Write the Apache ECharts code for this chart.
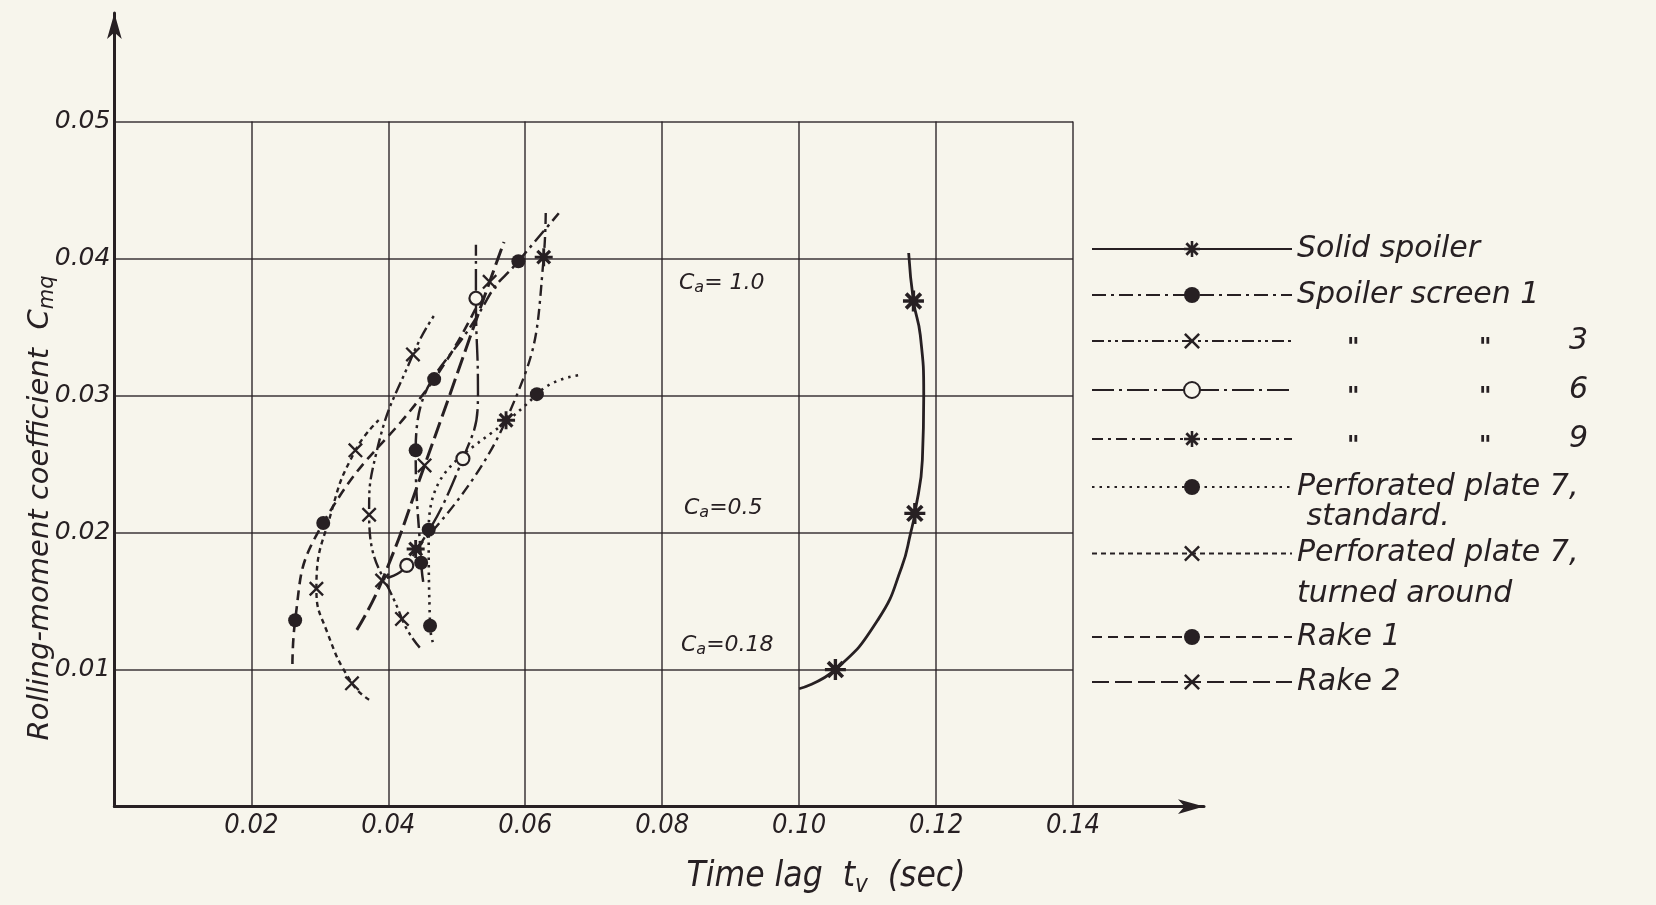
<!DOCTYPE html>
<html><head><meta charset="utf-8">
<script src="https://cdn.jsdelivr.net/npm/echarts@6/dist/echarts.min.js"></script>
<style>html,body{margin:0;padding:0;background:#f7f5ec;}#chart{width:1656px;height:905px;}</style>
</head><body><div id="chart"></div>
<script>
// ---- tick labels ----
const xTickLabels = ['0.02', '0.04', '0.06', '0.08', '0.10', '0.12', '0.14'];
const yTickLabels = ['0.01', '0.02', '0.03', '0.04', '0.05'];

// ---- series names ----
const seriesNames = ['Solid spoiler', 'Spoiler screen 1', 'Spoiler screen 3', 'Spoiler screen 6',
  'Spoiler screen 9', 'Perforated plate 7, standard', 'Perforated plate 7, turned around', 'Rake 1', 'Rake 2'];

// ---- data: faired curves [t_v, C_mq] and measured points ----
const solidSpoilerCurve = [[0.1000,0.0086],[0.1053,0.0100],[0.1116,0.0137],[0.1150,0.0175],[0.1163,0.0200],[0.1169,0.0214],[0.1180,0.0253],[0.1182,0.0300],[0.1177,0.0344],[0.1167,0.0369],[0.1160,0.0404]];
const solidSpoilerPoints = [[0.1053,0.0100],[0.1169,0.0214],[0.1167,0.0369]];

const screen1Curve = [[0.0451,0.0164],[0.0448,0.0178],[0.0440,0.0260],[0.0544,0.0370],[0.0590,0.0398],[0.0649,0.0433]];
const screen1Points = [[0.0448,0.0178],[0.0440,0.0260],[0.0590,0.0398]];

const screen3Curve = [[0.0446,0.0116],[0.0420,0.0137],[0.0372,0.0213],[0.0382,0.0257],[0.0436,0.0330],[0.0469,0.0360]];
const screen3Points = [[0.0420,0.0137],[0.0372,0.0213],[0.0436,0.0330]];

const screen6Curve = [[0.0398,0.0167],[0.0427,0.0176],[0.0509,0.0254],[0.0531,0.0303],[0.0528,0.0371],[0.0528,0.0410]];
const screen6Points = [[0.0427,0.0176],[0.0509,0.0254],[0.0528,0.0371]];

const screen9Curve = [[0.0440,0.0188],[0.0572,0.0282],[0.0627,0.0401],[0.0630,0.0436]];
const screen9Points = [[0.0440,0.0188],[0.0572,0.0282],[0.0627,0.0401]];

const perfStandardCurve = [[0.0465,0.0120],[0.0461,0.0132],[0.0459,0.0202],[0.0617,0.0301],[0.0681,0.0315]];
const perfStandardPoints = [[0.0461,0.0132],[0.0459,0.0202],[0.0617,0.0301]];

const perfTurnedCurve = [[0.0372,0.0078],[0.0347,0.0090],[0.0311,0.0127],[0.0295,0.0159],[0.0318,0.0217],[0.0352,0.0260],[0.0386,0.0282]];
const perfTurnedPoints = [[0.0347,0.0090],[0.0295,0.0159],[0.0352,0.0260]];

const rake1Curve = [[0.0260,0.0104],[0.0264,0.0136],[0.0305,0.0207],[0.0467,0.0312],[0.0529,0.0365]];
const rake1Points = [[0.0264,0.0136],[0.0305,0.0207],[0.0467,0.0312]];

const rake2Curve = [[0.0354,0.0129],[0.0391,0.0165],[0.0453,0.0249],[0.0548,0.0383],[0.0569,0.0412]];
const rake2Points = [[0.0391,0.0165],[0.0453,0.0249],[0.0548,0.0383]];

// ---- styling ----
const BG = '#f7f5ec', INK = '#272023';
const ASTERISK = 'path://M0 8.4L20 8.4L20 11.6L0 11.6Z M8.4 0L11.6 0L11.6 20L8.4 20Z M4.2 1.7L18.3 15.8L15.8 18.3L1.7 4.2Z M18.3 4.2L4.2 18.3L1.7 15.8L15.8 1.7Z';
const CROSS = 'path://M0 2.2L2.2 0L20 17.8L17.8 20Z M17.8 0L20 2.2L2.2 20L0 17.8Z';

const curves = [solidSpoilerCurve, screen1Curve, screen3Curve, screen6Curve, screen9Curve, perfStandardCurve, perfTurnedCurve, rake1Curve, rake2Curve];
const points = [solidSpoilerPoints, screen1Points, screen3Points, screen6Points, screen9Points, perfStandardPoints, perfTurnedPoints, rake1Points, rake2Points];

const styles = [
  {symbol: ASTERISK, size: 21, dash: 'solid', width: 2.8},
  {symbol: 'circle', size: 14, dash: [14, 5, 3, 5], width: 2.5},
  {symbol: CROSS, size: 15, dash: [12, 4, 3, 4, 3, 4], width: 2.4},
  {symbol: 'circle', size: 13, dash: [22, 5, 3, 5], width: 2.4, open: true},
  {symbol: ASTERISK, size: 18, dash: [11, 5, 3, 5], width: 2.4},
  {symbol: 'circle', size: 14, dash: [2.5, 5], width: 2.6},
  {symbol: CROSS, size: 15, dash: [5, 4], width: 2.4},
  {symbol: 'circle', size: 14, dash: [10, 6], width: 2.6},
  {symbol: CROSS, size: 15, dash: [17, 6], width: 3}
];

const FONT = "'DejaVu Sans', sans-serif";
const NARROW = "'Liberation Sans Narrow', 'DejaVu Sans Condensed', sans-serif";

const series = [];
seriesNames.forEach((name, i) => {
  const st = styles[i];
  const itemStyle = st.open ? {color: BG, borderColor: INK, borderWidth: 2.2, opacity: 1} : {color: INK, borderWidth: 0, opacity: 1};
  series.push({
    name, type: 'line', xAxisIndex: 0, yAxisIndex: 0, data: curves[i],
    symbol: st.symbol, showSymbol: false, smooth: 0.5,
    lineStyle: {color: INK, width: st.width, type: st.dash},
    itemStyle, silent: true, z: 3, emphasis: {disabled: true}
  });
  series.push({
    name, type: 'scatter', xAxisIndex: 0, yAxisIndex: 0, data: points[i],
    symbol: st.symbol, symbolSize: st.size, itemStyle, silent: true, z: 4, emphasis: {disabled: true}
  });
});

const quoteRich = {
  s1: {width: 50, fontSize: 30, fontFamily: FONT},
  q1: {width: 132, fontSize: 24, fontWeight: 'bold', fontFamily: FONT, fontStyle: 'italic', color: INK, padding: [16, 0, 0, 0]},
  q2: {width: 90, fontSize: 24, fontWeight: 'bold', fontFamily: FONT, fontStyle: 'italic', color: INK, padding: [16, 0, 0, 0]},
  n: {fontSize: 30, fontFamily: FONT, fontStyle: 'italic', color: INK}
};
const legendText = {
  'Solid spoiler': 'Solid spoiler',
  'Spoiler screen 1': 'Spoiler screen 1',
  'Spoiler screen 3': '{s1| }{q1|"}{q2|"}{n|3}',
  'Spoiler screen 6': '{s1| }{q1|"}{q2|"}{n|6}',
  'Spoiler screen 9': '{s1| }{q1|"}{q2|"}{n|9}',
  'Perforated plate 7, standard': '\nPerforated plate 7,\n standard.',
  'Perforated plate 7, turned around': '\nPerforated plate 7,\nturned around',
  'Rake 1': 'Rake 1',
  'Rake 2': 'Rake 2'
};
function legendItem(name) {
  const i = seriesNames.indexOf(name);
  const o = {name};
  if (styles[i].open) o.itemStyle = {color: BG, borderColor: INK, borderWidth: 2};
  return o;
}
function makeLegend(names, top, gap, lineHeight) {
  return {
    orient: 'vertical', left: 1091, top, itemGap: gap, padding: 0,
    itemWidth: 200, itemHeight: 20, selectedMode: false,
    data: names.map(legendItem),
    formatter: n => legendText[n],
    textStyle: {fontSize: 30, fontFamily: FONT, fontStyle: 'italic', color: INK, lineHeight, rich: quoteRich}
  };
}

const sub = (size, pad) => ({fontSize: size, padding: [pad, 0, 0, 0]});

const option = {
  backgroundColor: BG,
  animation: false,
  grid: [
    {left: 114.4, top: 121.5, width: 958.6, height: 685.1, outerBoundsMode: 'none', containLabel: false},
    {left: 114.4, top: 13, width: 1089.6, height: 793.6, outerBoundsMode: 'none', containLabel: false}
  ],
  xAxis: [
    {type: 'value', gridIndex: 0, min: 0, max: 0.14, interval: 0.02,
      axisLine: {show: false}, axisTick: {show: false},
      splitLine: {show: true, lineStyle: {color: INK, width: 1.5, opacity: 0.9}},
      axisLabel: {margin: 6, color: INK, fontSize: 27, fontFamily: NARROW, fontStyle: 'italic',
        formatter: v => { const s = v.toFixed(2); return xTickLabels.includes(s) ? s : ''; }}},
    {type: 'value', gridIndex: 1, min: 0, max: 0.15913,
      axisLine: {show: true, lineStyle: {color: INK, width: 3}, symbol: ['none', 'arrow'], symbolSize: [11, 26]},
      axisTick: {show: false}, axisLabel: {show: false}, splitLine: {show: false}}
  ],
  yAxis: [
    {type: 'value', gridIndex: 0, min: 0, max: 0.05, interval: 0.01,
      axisLine: {show: false}, axisTick: {show: false},
      splitLine: {show: true, lineStyle: {color: INK, width: 1.5, opacity: 0.9}},
      axisLabel: {margin: 4, color: INK, fontSize: 25, fontFamily: FONT, fontStyle: 'italic', padding: [12, 0, 0, 0],
        formatter: v => { const s = v.toFixed(2); return yTickLabels.includes(s) ? s : ''; }}},
    {type: 'value', gridIndex: 1, min: 0, max: 0.05792,
      axisLine: {show: true, lineStyle: {color: INK, width: 3}, symbol: ['none', 'arrow'], symbolSize: [11, 26]},
      axisTick: {show: false}, axisLabel: {show: false}, splitLine: {show: false}}
  ],
  legend: [
    makeLegend(seriesNames.slice(0, 5), 232, 12, 34),
    makeLegend([seriesNames[5]], 442, 0, 30),
    makeLegend([seriesNames[6]], 492, 0, 41),
    makeLegend(seriesNames.slice(7, 9), 620, 11, 34)
  ],
  graphic: [
    {type: 'text', x: 40, y: 508, rotation: Math.PI / 2, silent: true,
      style: {text: 'Rolling-moment coefficient  C{s|mq}', align: 'center', verticalAlign: 'middle',
        fill: INK, fontSize: 29, fontFamily: FONT, fontStyle: 'italic',
        rich: {s: Object.assign(sub(21, 15), {fontFamily: FONT, fontStyle: 'italic', fill: INK})}}},
    {type: 'text', x: 826, y: 877, silent: true,
      style: {text: 'Time lag  t{s|v}  (sec)', align: 'center', verticalAlign: 'middle',
        fill: INK, fontSize: 35, fontFamily: NARROW, fontStyle: 'italic',
        rich: {s: Object.assign(sub(24, 18), {fontFamily: NARROW, fontStyle: 'italic', fill: INK})}}},
    {type: 'text', x: 679, y: 283, silent: true,
      style: {text: 'C{s|a}= 1.0', align: 'left', verticalAlign: 'middle', fill: INK, fontSize: 22,
        fontFamily: FONT, fontStyle: 'italic', rich: {s: Object.assign(sub(16, 10), {fontFamily: FONT, fontStyle: 'italic', fill: INK})}}},
    {type: 'text', x: 684, y: 508, silent: true,
      style: {text: 'C{s|a}=0.5', align: 'left', verticalAlign: 'middle', fill: INK, fontSize: 22,
        fontFamily: FONT, fontStyle: 'italic', rich: {s: Object.assign(sub(16, 10), {fontFamily: FONT, fontStyle: 'italic', fill: INK})}}},
    {type: 'text', x: 681, y: 645, silent: true,
      style: {text: 'C{s|a}=0.18', align: 'left', verticalAlign: 'middle', fill: INK, fontSize: 22,
        fontFamily: FONT, fontStyle: 'italic', rich: {s: Object.assign(sub(16, 10), {fontFamily: FONT, fontStyle: 'italic', fill: INK})}}}
  ],
  series
};

const chart = echarts.init(document.getElementById('chart'), null, {renderer: 'canvas'});
chart.setOption(option);
</script>
</body></html>
